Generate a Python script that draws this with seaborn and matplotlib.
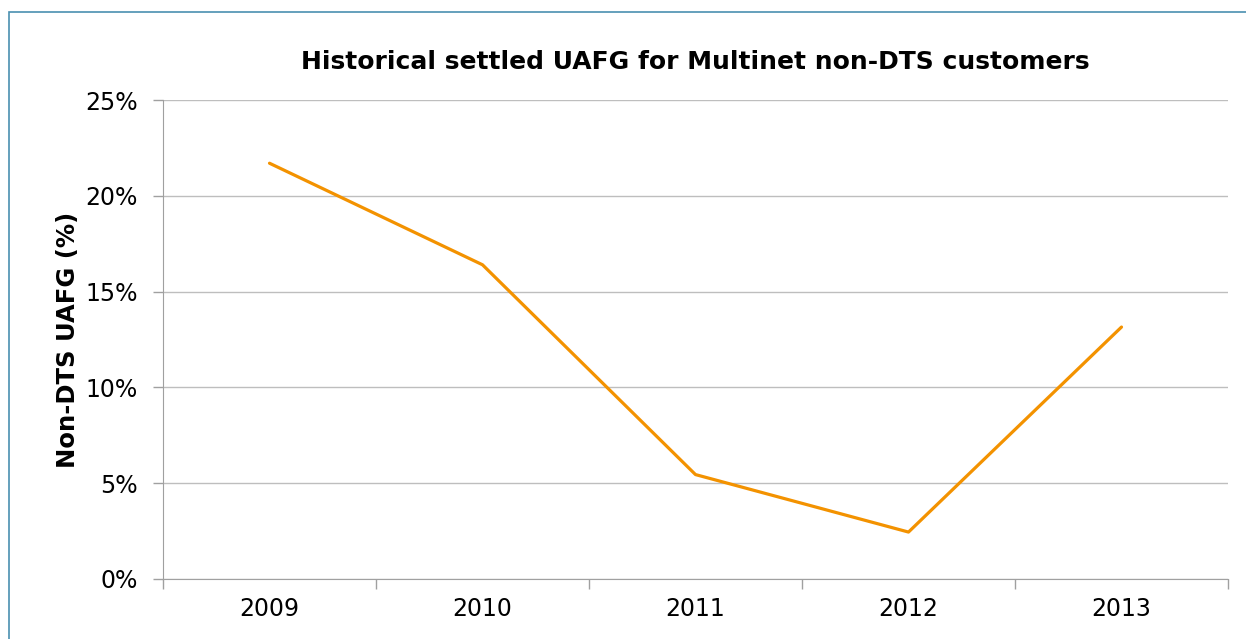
import matplotlib
matplotlib.use("Agg")
import matplotlib.pyplot as plt
import seaborn as sns
import pandas as pd
from matplotlib.patches import Rectangle
from matplotlib.ticker import FixedLocator, PercentFormatter

# data
years = ["2009", "2010", "2011", "2012", "2013"]
uafg_pct = [21.7, 16.4, 5.45, 2.45, 13.15]
y_ticks = [0, 5, 10, 15, 20, 25]

df = pd.DataFrame({"Year": years, "UAFG": uafg_pct})

sns.set_style("white")
plt.rcParams['font.family'] = ['DejaVu Sans']
plt.rcParams['text.color'] = 'black'
plt.rcParams['axes.labelcolor'] = 'black'
plt.rcParams['xtick.color'] = 'black'
plt.rcParams['ytick.color'] = 'black'

fig = plt.figure(figsize=(12.46, 6.39), dpi=100)
ax = fig.add_axes([163 / 1246, 1 - 579 / 639, (1228 - 163) / 1246, (579 - 100) / 639])

sns.lineplot(data=df, x="Year", y="UAFG", ax=ax, color="#F39200", linewidth=2.3, sort=False)

# outer frame (only top and left edges visible in the crop)
fig.patches.append(Rectangle((9 / 1246, -0.1), 1.2, 1 - 12 / 639 + 0.1, transform=fig.transFigure,
                             fill=False, edgecolor="#4A90B0", linewidth=1.2))

ax.set_xlim(-0.5, len(years) - 0.5)
ax.set_ylim(0, 25)
ax.set_yticks(y_ticks)
ax.yaxis.set_major_formatter(PercentFormatter(decimals=0))
ax.grid(axis="y", color="#BEBEBE", linewidth=1)
ax.set_axisbelow(True)

for side in ["top", "right"]:
    ax.spines[side].set_visible(False)
ax.spines["left"].set_color("#A0A0A0")
ax.spines["bottom"].set_color("#A0A0A0")

ax.tick_params(axis="y", length=7, width=1, color="#A0A0A0", labelcolor="black", labelsize=17,
               pad=11, direction="out", left=True)
ax.tick_params(axis="x", which="major", length=0, labelsize=17, labelcolor="black", pad=13)
ax.xaxis.set_minor_locator(FixedLocator([i - 0.5 for i in range(len(years) + 1)]))
ax.tick_params(axis="x", which="minor", length=7, width=1, color="#A0A0A0", direction="out", bottom=True)

ax.set_xlabel("")
ax.set_ylabel("Non-DTS UAFG (%)", fontsize=17.5, fontweight="bold", labelpad=4, color="black")
ax.set_title("Historical settled UAFG for Multinet non-DTS customers", fontsize=18,
             fontweight="bold", pad=22, color="black")

fig.savefig("out.png", dpi=100)
